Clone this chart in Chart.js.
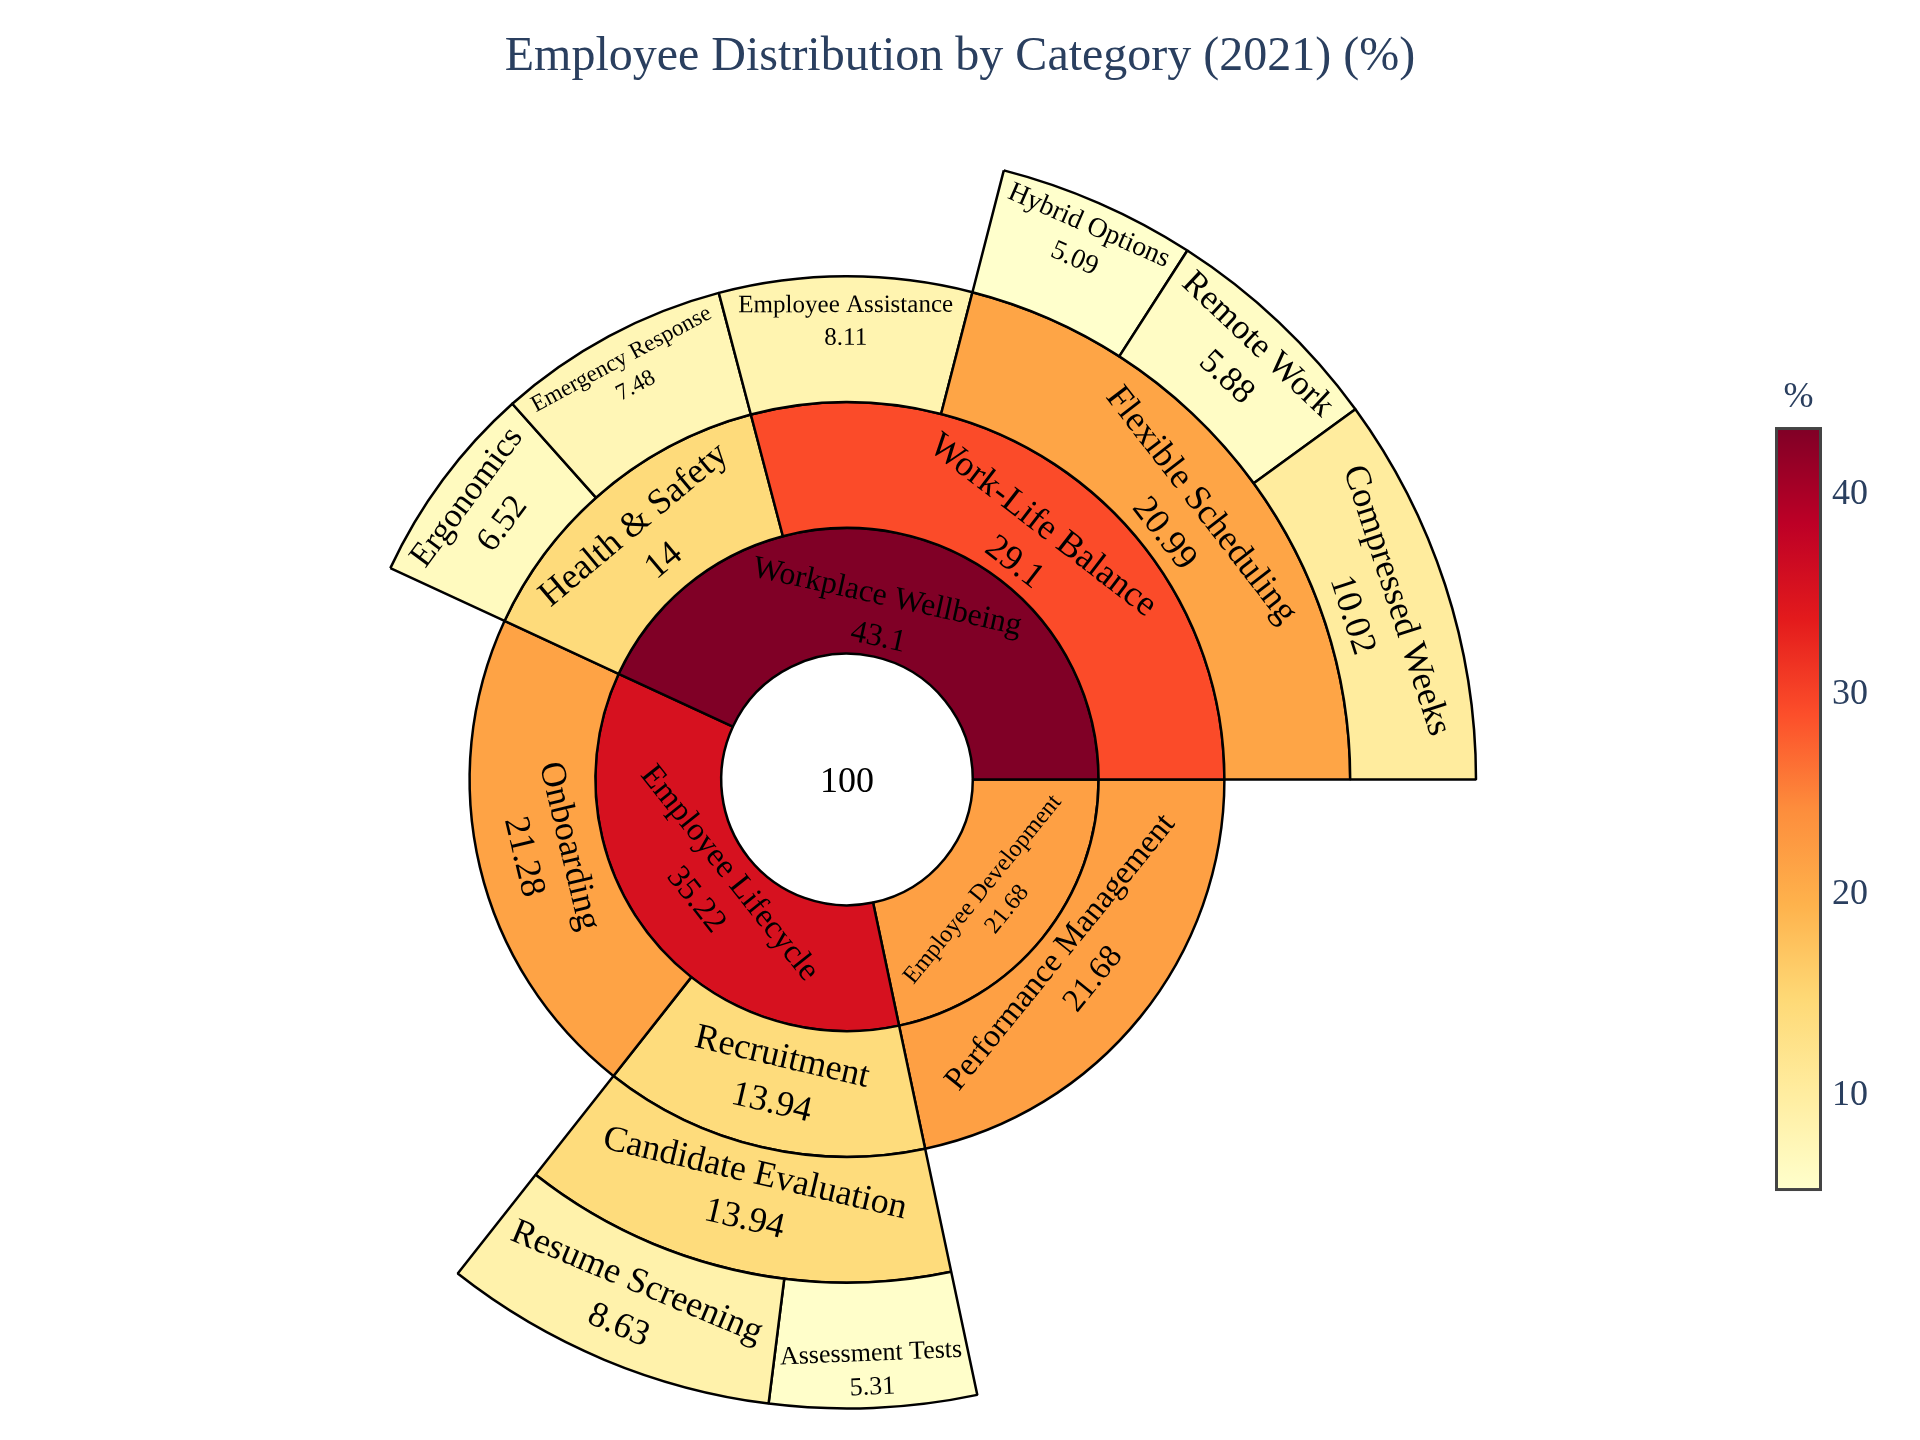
<!DOCTYPE html>
<html>
<head>
<meta charset="utf-8">
<script src="https://cdn.jsdelivr.net/npm/chart.js@4.4.1/dist/chart.umd.min.js"></script>
<style>
html,body{margin:0;padding:0;background:#ffffff;}
#wrap{width:1920px;height:1440px;position:relative;}
</style>
</head>
<body>
<div id="wrap"><canvas id="c" width="1920" height="1440"></canvas></div>
<script>
// ---------------- data ----------------
const titleText = 'Employee Distribution by Category (2021) (%)';
const rootLabel = '';
const rootValue = 100;

const level1Labels = ['Workplace Wellbeing', 'Employee Lifecycle', 'Employee Development'];
const level1Values = [43.1, 35.22, 21.68];

const level2Labels = ['Work-Life Balance', 'Health & Safety', 'Onboarding', 'Recruitment', 'Performance Management'];
const level2Values = [29.1, 14, 21.28, 13.94, 21.68];
const level2Parents = ['Workplace Wellbeing', 'Workplace Wellbeing', 'Employee Lifecycle', 'Employee Lifecycle', 'Employee Development'];

const level3Labels = ['Flexible Scheduling', 'Employee Assistance', 'Emergency Response', 'Ergonomics', 'Candidate Evaluation'];
const level3Values = [20.99, 8.11, 7.48, 6.52, 13.94];
const level3Parents = ['Work-Life Balance', 'Work-Life Balance', 'Health & Safety', 'Health & Safety', 'Recruitment'];

const level4Labels = ['Compressed Weeks', 'Remote Work', 'Hybrid Options', 'Resume Screening', 'Assessment Tests'];
const level4Values = [10.02, 5.88, 5.09, 8.63, 5.31];
const level4Parents = ['Flexible Scheduling', 'Flexible Scheduling', 'Flexible Scheduling', 'Candidate Evaluation', 'Candidate Evaluation'];

const colorbarTitle = '%';
const colorbarTicks = [10, 20, 30, 40];

// ---------------- styling ----------------
const FONT = "'Liberation Serif', 'Times New Roman', serif";
const BASE = 36;
const TEXTPAD = 9;
const scaleStops = ['#ffffcc', '#ffeda0', '#fed976', '#feb24c', '#fd8d3c', '#fc4e2a', '#e31a1c', '#bd0026', '#800026'];

const allValues = [].concat(level1Values, level2Values, level3Values, level4Values);
const cmin = Math.min(...allValues);
const cmax = Math.max(...allValues);

function hex2rgb(h) { return [1, 3, 5].map(i => parseInt(h.substr(i, 2), 16)); }
function colorAt(v) {
  let t = (v - cmin) / (cmax - cmin);
  t = Math.max(0, Math.min(1, t));
  const n = scaleStops.length - 1;
  const k = Math.min(n - 1, Math.floor(t * n));
  const f = t * n - k;
  const a = hex2rgb(scaleStops[k]), b = hex2rgb(scaleStops[k + 1]);
  const c = a.map((x, i) => Math.round(x + (b[i] - x) * f));
  return `rgb(${c[0]},${c[1]},${c[2]})`;
}

// ---------------- build rings ----------------
const levels = [
  {labels: level1Labels, values: level1Values, parents: level1Labels.map(() => '__root__')},
  {labels: level2Labels, values: level2Values, parents: level2Parents},
  {labels: level3Labels, values: level3Values, parents: level3Parents},
  {labels: level4Labels, values: level4Values, parents: level4Parents}
];

let prev = [{name: rootLabel, id: '__root__', value: rootValue, gap: false, root: true}];
const rings = [prev];
levels.forEach(lv => {
  const seq = [];
  prev.forEach(node => {
    const kids = node.gap ? [] : lv.labels
      .map((l, i) => ({name: l, id: l, value: lv.values[i], parent: lv.parents[i], gap: false}))
      .filter(k => k.parent === node.id)
      .sort((a, b) => b.value - a.value);
    if (kids.length) seq.push(...kids);
    else seq.push({name: null, id: null, value: node.value, gap: true});
  });
  rings.push(seq);
  prev = seq;
});

// Chart.js draws clockwise from the start angle; reverse to get counter-clockwise order
const datasets = rings.slice().reverse().map(seq => {
  const s = seq.slice().reverse();
  return {
    data: s.map(n => n.value),
    names: s.map(n => n.gap ? null : n.name),
    backgroundColor: s.map(n => n.gap ? 'rgba(0,0,0,0)' : (n.root ? '#ffffff' : colorAt(n.value))),
    borderColor: '#000000',
    borderWidth: s.map(n => (n.gap || n.root) ? 0 : 2.5),
    weight: 1
  };
});

// ---------------- plugins ----------------
const sunburstLabels = {
  id: 'sunburstLabels',
  afterDatasetsDraw(chart) {
    const ctx = chart.ctx;
    chart.data.datasets.forEach((ds, di) => {
      const meta = chart.getDatasetMeta(di);
      meta.data.forEach((arc, i) => {
        const name = ds.names[i];
        if (name === null) return;
        const p = arc.getProps(['x', 'y', 'startAngle', 'endAngle', 'innerRadius', 'outerRadius'], true);
        const val = String(ds.data[i]);
        const lines = name ? [name, val] : [val];
        ctx.save();
        ctx.font = `${BASE}px ${FONT}`;
        const w = Math.max(...lines.map(l => ctx.measureText(l).width));
        const h = BASE * (1.3 * (lines.length - 1) + 1.107);
        const delta = p.endAngle - p.startAngle;
        let scale = 1, cx = p.x, cy = p.y, rot = 0;
        const isCircle = p.innerRadius < 0.5 && delta >= 2 * Math.PI - 1e-6;
        if (!isCircle) {
          const r = Math.max(0, p.outerRadius - 2 * TEXTPAD);
          const ring = 1 - p.innerRadius / p.outerRadius;
          const half = 0.5 * Math.min(delta, Math.PI);
          const a = h / w;
          const q = a + 1 / (2 * Math.tan(half));
          const s = r * Math.min(1 / (Math.sqrt(q * q + 0.5) + q), ring / (Math.sqrt(a * a + ring / 2) + a));
          scale = Math.min(1, 2 * s / w);
          const rc = Math.cos(s / r) - a * s / r;
          const mid = (p.startAngle + p.endAngle) / 2;
          cx = p.x + Math.cos(mid) * rc * p.outerRadius;
          cy = p.y + Math.sin(mid) * rc * p.outerRadius;
          let deg = (mid * 180 / Math.PI + 90) % 180;
          if (deg < 0) deg += 180;
          if (deg >= 90) deg -= 180;
          rot = deg * Math.PI / 180;
        }
        ctx.translate(cx, cy);
        ctx.rotate(rot);
        ctx.scale(scale, scale);
        ctx.fillStyle = '#000000';
        ctx.textAlign = 'center';
        ctx.textBaseline = 'alphabetic';
        const top = -h / 2 + 0.891 * BASE;
        lines.forEach((l, k) => ctx.fillText(l, 0, top + k * 1.3 * BASE));
        ctx.restore();
      });
    });
  }
};

const colorbar = {
  id: 'colorbar',
  afterDraw(chart) {
    const s = chart.scales.cb;
    const ctx = chart.ctx;
    const yTop = s.getPixelForValue(cmax);
    const yBot = s.getPixelForValue(cmin);
    const x0 = s.left + 82.5, bw = 44;
    const g = ctx.createLinearGradient(0, yBot, 0, yTop);
    scaleStops.forEach((c, i) => g.addColorStop(i / (scaleStops.length - 1), c));
    ctx.save();
    ctx.fillStyle = g;
    ctx.fillRect(x0, yTop, bw, yBot - yTop);
    ctx.lineWidth = 3;
    ctx.strokeStyle = '#444444';
    ctx.strokeRect(x0, yTop, bw, yBot - yTop);
    ctx.fillStyle = '#2a3f5f';
    ctx.font = `36px ${FONT}`;
    ctx.textAlign = 'center';
    ctx.textBaseline = 'alphabetic';
    ctx.fillText(colorbarTitle, x0 + bw / 2, yTop - 22);
    ctx.restore();
  }
};

// ---------------- chart ----------------
new Chart(document.getElementById('c'), {
  type: 'doughnut',
  data: {datasets},
  options: {
    responsive: false,
    animation: false,
    rotation: 90,
    circumference: 360,
    cutout: 0,
    radius: 629,
    layout: {autoPadding: false, padding: 0},
    plugins: {
      legend: {display: false},
      tooltip: {enabled: false},
      title: {
        display: true,
        text: titleText,
        color: '#2a3f5f',
        font: {family: FONT, size: 48, weight: 'normal', lineHeight: 1.2},
        padding: {top: 29, bottom: 32.4}
      }
    },
    scales: {
      cb: {
        type: 'linear',
        axis: 'y',
        position: 'right',
        min: -7.42,
        max: 58.56,
        grid: {display: false, drawTicks: false},
        border: {display: false},
        ticks: {padding: 138, labelOffset: 4, color: '#2a3f5f', font: {family: FONT, size: 36}, callback: v => String(v)},
        afterBuildTicks: s => { s.ticks = colorbarTicks.map(v => ({value: v})); },
        afterFit: s => { s.width = 226; s.paddingTop = 0; s.paddingBottom = 0; s.paddingLeft = 0; s.paddingRight = 0; }
      }
    }
  },
  plugins: [sunburstLabels, colorbar]
});
</script>
</body>
</html>
